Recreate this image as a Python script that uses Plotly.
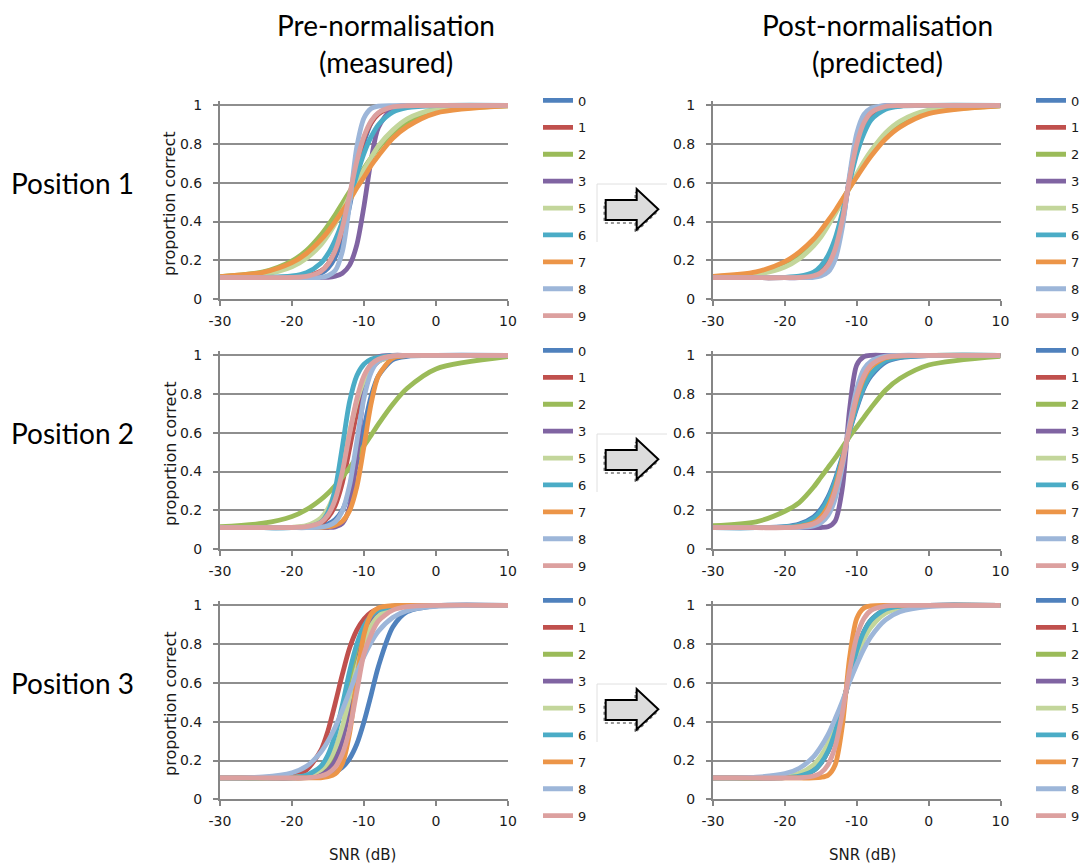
import plotly.graph_objects as go

# ---------------- data ----------------
snr = [-30, -24, -20, -18, -16, -15, -14, -13, -12, -11, -10, -9, -8, -6, -4, 0, 10]
series_labels = ["0", "1", "2", "3", "5", "6", "7", "8", "9"]
series_colors = ["#4F81BD", "#C0504D", "#9BBB59", "#8064A2", "#C3D69B",
                 "#4BACC6", "#EC9548", "#9DB6D9", "#DCA09F"]

pre_pos1 = [
    [.11, .11, .111, .114, .133, .16, .216, .32, .48, .664, .81, .91, .958, .992, .998, 1, 1],
    [.11, .11, .112, .118, .144, .18, .25, .36, .52, .69, .83, .91, .955, .99, .998, 1, 1],
    [.116, .14, .197, .25, .33, .38, .435, .495, .555, .615, .675, .73, .78, .86, .913, .97, .998],
    [.11, .11, .11, .11, .111, .112, .118, .133, .175, .28, .48, .72, .885, .985, .998, 1, 1],
    [.112, .126, .166, .21, .28, .33, .39, .455, .53, .6, .668, .73, .79, .872, .93, .98, .999],
    [.11, .111, .119, .136, .185, .233, .305, .40, .52, .64, .752, .838, .9, .965, .988, .999, 1],
    [.116, .138, .188, .235, .305, .349, .40, .455, .51, .573, .63, .69, .74, .83, .89, .96, .997],
    [.11, .11, .11, .11, .112, .12, .147, .246, .49, .785, .935, .984, .996, .999, 1, 1, 1],
    [.11, .11, .111, .117, .142, .18, .25, .37, .54, .71, .84, .92, .962, .992, .998, 1, 1],
]
post_pos1 = [
    [.11, .11, .11, .112, .123, .139, .18, .265, .42, .615, .79, .9, .958, .993, .999, 1, 1],
    [.11, .11, .11, .112, .125, .144, .188, .275, .425, .61, .782, .894, .952, .99, .998, 1, 1],
    [.114, .134, .178, .225, .295, .34, .39, .448, .51, .575, .635, .697, .75, .84, .902, .965, .998],
    [.11, .11, .11, .11, .115, .125, .152, .227, .39, .625, .83, .935, .978, .998, 1, 1, 1],
    [.113, .127, .165, .207, .275, .32, .378, .44, .505, .575, .645, .71, .766, .858, .918, .975, .999],
    [.11, .11, .112, .118, .139, .17, .224, .313, .446, .602, .75, .855, .925, .98, .995, 1, 1],
    [.117, .14, .193, .242, .31, .354, .404, .457, .515, .573, .63, .686, .738, .826, .887, .957, .997],
    [.11, .11, .11, .11, .112, .119, .139, .205, .37, .64, .855, .953, .986, .999, 1, 1, 1],
    [.11, .11, .11, .111, .12, .136, .175, .258, .41, .62, .8, .91, .963, .994, .999, 1, 1],
]
pre_pos2 = [
    [.11, .11, .11, .112, .118, .13, .152, .2, .3, .446, .625, .79, .894, .978, .995, 1, 1],
    [.11, .11, .111, .115, .133, .163, .225, .343, .52, .705, .845, .928, .968, .994, .999, 1, 1],
    [.115, .133, .168, .203, .255, .288, .328, .372, .42, .475, .533, .588, .645, .748, .83, .93, .994],
    [.11, .11, .11, .11, .11, .111, .114, .133, .216, .48, .81, .958, .992, 1, 1, 1, 1],
    [.11, .11, .112, .121, .16, .21, .30, .44, .605, .761, .87, .935, .968, .993, .999, 1, 1],
    [.11, .11, .11, .113, .138, .19, .31, .53, .761, .895, .955, .98, .99, .998, 1, 1, 1],
    [.11, .11, .11, .11, .111, .114, .122, .143, .198, .32, .53, .752, .894, .985, .998, 1, 1],
    [.11, .11, .11, .11, .113, .12, .14, .197, .33, .555, .78, .913, .97, .997, 1, 1, 1],
    [.11, .11, .111, .115, .137, .176, .255, .40, .595, .775, .894, .954, .98, .997, 1, 1, 1],
]
post_pos2 = [
    [.11, .11, .116, .129, .166, .205, .268, .36, .478, .608, .728, .83, .894, .965, .988, .999, 1],
    [.11, .11, .111, .116, .136, .163, .216, .31, .455, .622, .773, .88, .94, .986, .997, 1, 1],
    [.12, .14, .195, .24, .32, .37, .42, .47, .525, .58, .63, .68, .73, .82, .88, .95, .995],
    [.11, .11, .11, .11, .11, .111, .115, .145, .315, .72, .95, .993, 1, 1, 1, 1, 1],
    [.11, .11, .112, .119, .142, .175, .23, .32, .46, .618, .761, .865, .928, .982, .996, 1, 1],
    [.11, .11, .114, .124, .158, .195, .256, .349, .47, .61, .738, .838, .905, .972, .991, .999, 1],
    [.11, .11, .111, .116, .136, .165, .22, .315, .46, .625, .777, .883, .942, .987, .997, 1, 1],
    [.11, .11, .11, .111, .119, .134, .173, .26, .426, .645, .828, .93, .97, .996, 1, 1, 1],
    [.11, .11, .11, .114, .13, .152, .2, .3, .446, .625, .79, .894, .95, .99, .998, 1, 1],
]
pre_pos3 = [
    [.11, .11, .11, .112, .118, .125, .14, .165, .21, .285, .40, .54, .685, .888, .967, .998, 1],
    [.11, .111, .121, .151, .252, .354, .495, .645, .78, .872, .93, .965, .982, .995, .999, 1, 1],
    [.11, .11, .111, .114, .134, .165, .235, .36, .555, .75, .875, .945, .977, .996, 1, 1, 1],
    [.11, .11, .11, .113, .126, .15, .2, .305, .475, .675, .833, .925, .967, .994, .999, 1, 1],
    [.11, .11, .113, .121, .152, .192, .263, .375, .525, .678, .806, .894, .944, .986, .997, 1, 1],
    [.11, .11, .113, .124, .17, .23, .335, .487, .66, .8, .894, .947, .975, .994, .999, 1, 1],
    [.11, .11, .11, .11, .111, .116, .131, .185, .34, .615, .85, .955, .987, .999, 1, 1, 1],
    [.11, .115, .137, .17, .243, .30, .373, .46, .555, .65, .737, .81, .867, .937, .973, .995, 1],
    [.11, .11, .11, .111, .12, .134, .165, .235, .36, .555, .75, .85, .92, .975, .993, 1, 1],
]
post_pos3 = [
    [.11, .11, .113, .122, .152, .19, .252, .349, .48, .625, .761, .858, .92, .978, .994, 1, 1],
    [.11, .11, .112, .12, .148, .186, .248, .346, .48, .628, .767, .865, .925, .98, .995, 1, 1],
    [.11, .11, .114, .125, .16, .2, .265, .36, .487, .622, .75, .845, .91, .972, .992, .999, 1],
    [.11, .11, .113, .122, .152, .19, .252, .349, .48, .625, .761, .858, .92, .978, .994, 1, 1],
    [.11, .111, .118, .134, .178, .222, .288, .38, .495, .615, .73, .825, .888, .96, .986, .999, 1],
    [.11, .11, .112, .12, .148, .186, .248, .346, .48, .628, .767, .865, .925, .98, .995, 1, 1],
    [.11, .11, .11, .11, .11, .113, .124, .178, .38, .73, .932, .986, .997, 1, 1, 1, 1],
    [.11, .114, .132, .16, .22, .27, .333, .415, .505, .605, .695, .775, .84, .925, .967, .994, 1],
    [.11, .11, .11, .111, .12, .136, .178, .272, .446, .664, .838, .932, .974, .996, 1, 1, 1],
]

x_ticks = [-30, -20, -10, 0, 10]
x_tick_text = ["-30", "-20", "-10", "0", "10"]
y_ticks = [0, 0.2, 0.4, 0.6, 0.8, 1]
y_tick_text = ["0", "0.2", "0.4", "0.6", "0.8", "1"]
column_titles = [("Pre-normalisation", "(measured)"), ("Post-normalisation", "(predicted)")]
row_titles = ["Position 1", "Position 2", "Position 3"]
y_title = "proportion correct"
x_title = "SNR (dB)"

# ---------------- layout helpers ----------------
W, H = 1088, 868
def px(x):
    return x / W
def py(y):
    return 1 - y / H

col_px = [(220, 508), (713, 1000.5)]
row_px = [(100.5, 299), (350.5, 549), (600.5, 799.3)]
legend_x_px = [538, 1031]
row_step = 250

AX_COL = "#868686"
GRID_COL = "#8E8E8E"
TICK_FONT = dict(family="DejaVu Sans", size=14, color="#1a1a1a")

fig = go.Figure()
panels = [[pre_pos1, post_pos1], [pre_pos2, post_pos2], [pre_pos3, post_pos3]]

layout_axes = {}
idx = 0
for r in range(3):
    for c in range(2):
        idx += 1
        sfx = "" if idx == 1 else str(idx)
        leg = "legend" if idx == 1 else "legend" + str(idx)
        data = panels[r][c]
        for k, lab in enumerate(series_labels):
            fig.add_trace(go.Scatter(
                x=snr, y=data[k], mode="lines", name=lab,
                line=dict(color=series_colors[k], width=4.8, shape="spline", smoothing=0.8),
                xaxis="x" + sfx, yaxis="y" + sfx, legend=leg,
                legendgroup=f"g{idx}_{k}", hoverinfo="x+y+name"))
        x0, x1 = col_px[c]
        yt, yb = row_px[r]
        layout_axes["xaxis" + sfx] = dict(
            domain=[px(x0), px(x1)], range=[-30, 10], anchor="y" + sfx,
            tickvals=x_ticks, ticktext=x_tick_text, ticks="outside", ticklen=5, tickwidth=2,
            tickcolor=AX_COL, showline=True, linecolor=AX_COL, linewidth=2, showgrid=False,
            zeroline=False, tickfont=TICK_FONT, ticklabelstandoff=3, fixedrange=True)
        layout_axes["yaxis" + sfx] = dict(
            domain=[py(yb), py(yt)], range=[0, 1.025], anchor="x" + sfx,
            tickvals=y_ticks, ticktext=y_tick_text, ticks="outside", ticklen=5, tickwidth=2,
            tickcolor=AX_COL, showline=True, linecolor=AX_COL, linewidth=2,
            showgrid=True, gridcolor=GRID_COL, gridwidth=2, zeroline=False,
            tickfont=TICK_FONT, ticklabelstandoff=8, fixedrange=True)
        layout_axes[leg] = dict(
            x=px(legend_x_px[c]), xanchor="left", y=py(yt - 15), yanchor="top",
            font=dict(family="DejaVu Sans", size=13, color="#1a1a1a"),
            bgcolor="rgba(0,0,0,0)", borderwidth=0, tracegroupgap=7,
            itemclick=False, itemdoubleclick=False)

fig.update_layout(**layout_axes)

annotations = []
title_cx = [386, 877]
for c, (t1, t2) in enumerate(column_titles):
    annotations.append(dict(x=px(title_cx[c]), y=py(25), text=t1, showarrow=False,
                            xref="paper", yref="paper", xanchor="center", yanchor="middle",
                            font=dict(family="Lato", size=28, color="#000")))
    annotations.append(dict(x=px(title_cx[c]), y=py(62), text=t2, showarrow=False,
                            xref="paper", yref="paper", xanchor="center", yanchor="middle",
                            font=dict(family="Lato", size=28, color="#000")))
for r, t in enumerate(row_titles):
    annotations.append(dict(x=px(9), y=py(183 + r * row_step), text=t, showarrow=False,
                            xref="paper", yref="paper", xanchor="left", yanchor="middle",
                            font=dict(family="Lato", size=28, color="#000")))
    annotations.append(dict(x=px(170), y=py(204 + r * row_step), text=y_title, showarrow=False,
                            xref="paper", yref="paper", xanchor="center", yanchor="middle",
                            textangle=-90,
                            font=dict(family="DejaVu Sans", size=16, color="#1a1a1a")))
for c, cx in enumerate([362, 862]):
    annotations.append(dict(x=px(cx), y=py(855), text=x_title, showarrow=False,
                            xref="paper", yref="paper", xanchor="center", yanchor="middle",
                            font=dict(family="DejaVu Sans", size=15, color="#1a1a1a")))

shapes = []
def arrow_path(dx, dy):
    pts = [(605.7, 200), (636.7, 200), (636.7, 189), (658.3, 209.3),
           (636.7, 229.5), (636.7, 220), (605.7, 220)]
    s = "M " + " L ".join(f"{px(x + dx):.5f},{py(y + dy):.5f}" for x, y in pts) + " Z"
    return s

for r in range(3):
    oy = r * row_step
    shapes.append(dict(type="line", xref="paper", yref="paper",
                       x0=px(597), x1=px(667), y0=py(184 + oy), y1=py(184 + oy),
                       line=dict(color="#E0E0E0", width=1)))
    shapes.append(dict(type="line", xref="paper", yref="paper",
                       x0=px(597), x1=px(597), y0=py(184 + oy), y1=py(242 + oy),
                       line=dict(color="#E0E0E0", width=1)))
    shapes.append(dict(type="path", xref="paper", yref="paper", path=arrow_path(-1.5, 3 + oy),
                       line=dict(color="#777777", width=1.5, dash="dot"),
                       fillcolor="rgba(0,0,0,0)"))
    shapes.append(dict(type="path", xref="paper", yref="paper", path=arrow_path(0, oy),
                       line=dict(color="#000000", width=2), fillcolor="#DCDCDC"))

fig.update_layout(
    width=W, height=H, margin=dict(l=0, r=0, t=0, b=0, autoexpand=False),
    paper_bgcolor="white", plot_bgcolor="white", showlegend=True,
    annotations=annotations, shapes=shapes,
)

fig.write_html("out.html")
